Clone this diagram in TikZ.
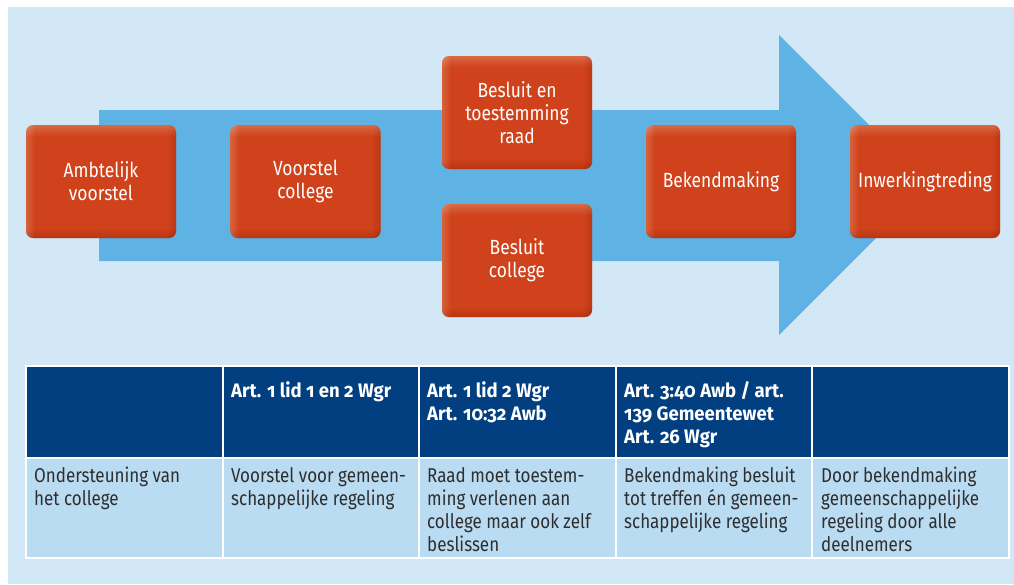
\documentclass[tikz,border=0pt]{standalone}
\usepackage{fontspec}
\setmainfont{Fira Sans}[FakeStretch=0.85,Numbers=OldStyle,BoldFeatures={FakeStretch=0.95}]
\usepackage{xcolor}
\usepackage{tikz}
\definecolor{achtergrond}{HTML}{D3E8F6}
\definecolor{pijlblauw}{HTML}{5EB3E4}
\definecolor{stapred}{HTML}{D0421B}
\definecolor{staplight}{HTML}{E08A66}
\definecolor{stapdark}{HTML}{A52B0C}
\definecolor{kopblauw}{HTML}{023F80}
\definecolor{celblauw}{HTML}{BADCF3}
\definecolor{celtekst}{HTML}{2E2E2E}
\pgfdeclareverticalshading{stapshade}{100bp}{color(0bp)=(stapdark); color(25bp)=(stapdark); color(29.5bp)=(stapred); color(70bp)=(stapred); color(75bp)=(staplight); color(100bp)=(staplight)}
\pgfdeclarehorizontalshading{stapside}{100bp}{color(0bp)=(staplight); color(25bp)=(staplight); color(28bp)=(stapred); color(72bp)=(stapred); color(75bp)=(stapdark); color(100bp)=(stapdark)}
\tikzstyle{stap}=[rounded corners=7pt,shading=stapshade,minimum width=150pt,minimum height=113pt,
  align=center,text=white,font=\fontsize{20.5}{23}\selectfont,
  postaction={shading=stapside,fill opacity=.45}]
\tikzstyle{kop}=[anchor=north west,inner sep=0pt,align=left,text=white,
  font=\fontsize{19.5}{23}\selectfont\bfseries,execute at begin node=\strut]
\tikzstyle{cel}=[anchor=north west,inner sep=0pt,align=left,text=celtekst,
  font=\fontsize{20}{23}\selectfont,execute at begin node=\strut]
\tikzstyle{rand}=[white,line width=1.3pt]

\begin{document}
\begin{tikzpicture}[x=1pt,y=-1pt]
\useasboundingbox (0,0) rectangle (1014,584);
\fill[achtergrond] (8,7) rectangle (1014,584);
% grote pijl
\fill[pijlblauw] (99,110) -- (779,110) -- (779,35) -- (929,185) -- (779,335) -- (779,261) -- (99,261) -- cycle;
% stappen
\node[stap] (ambtelijk)    at (101,181.5) {Ambtelijk\\voorstel};
\node[stap] (voorstel)     at (305.5,181.5) {Voorstel\\college};
\node[stap] (raad)         at (517,112.5) {Besluit en\\toestemming\\raad};
\node[stap] (besluit)      at (517,260.5) {Besluit\\college};
\node[stap] (bekendmaking) at (721,181.5) {Bekendmaking};
\node[stap] (inwerking)    at (925,181.5) {Inwerkingtreding};
% tabel
\fill[kopblauw] (26,366) rectangle (1009,458);
\fill[celblauw] (26,458) rectangle (1009,558);
\draw[rand] (26,366) rectangle (1009,558) (26,458) -- (1009,458);
\foreach \x in {223,419,616,812}
  \draw[rand] (\x,366) -- (\x,558);
\node[kop] (kop2) at (231,381) {Art. 1 lid 1 en 2 Wgr};
\node[kop] (kop3) at (427,381) {Art. 1 lid 2 Wgr\\Art. 10:32 Awb};
\node[kop] (kop4) at (624,381) {Art. 3:40 Awb / art.\\139 Gemeentewet\\Art. 26 Wgr};
\node[cel] (cel1) at (34,467) {Ondersteuning van\\het college};
\node[cel] (cel2) at (231,467) {Voorstel voor gemeen-\\schappelijke regeling};
\node[cel] (cel3) at (427,467) {Raad moet toestem-\\ming verlenen aan\\college maar ook zelf\\beslissen};
\node[cel] (cel4) at (624,467) {Bekendmaking besluit\\tot treffen én gemeen-\\schappelijke regeling};
\node[cel] (cel5) at (821,467) {Door bekendmaking\\gemeenschappelijke\\regeling door alle\\deelnemers};
\end{tikzpicture}
\end{document}
